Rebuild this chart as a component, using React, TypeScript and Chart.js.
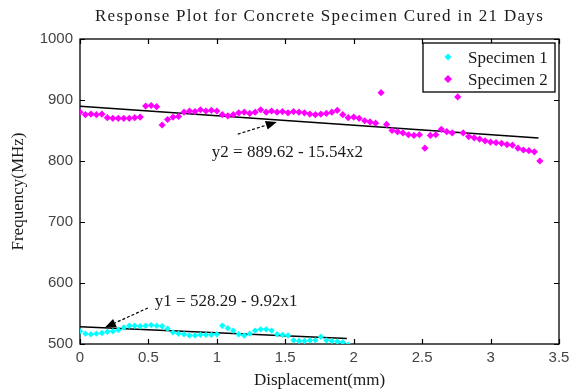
import React, { useEffect, useRef } from "react";
import { Chart, registerables } from "chart.js";

Chart.register(...registerables);

const chartTitle = "Response Plot for Concrete Specimen Cured in 21 Days";
const xAxisTitle = "Displacement(mm)";
const yAxisTitle = "Frequency(MHz)";
const xTickValues = [0, 0.5, 1, 1.5, 2, 2.5, 3, 3.5];
const yTickValues = [500, 600, 700, 800, 900, 1000];
const seriesNames = ["Specimen 1", "Specimen 2"];

const spec1X = [
  0, 0.04, 0.08, 0.12, 0.16, 0.2, 0.24, 0.28, 0.32, 0.36,
  0.4, 0.44, 0.48, 0.52, 0.56, 0.6, 0.64, 0.68, 0.72, 0.76,
  0.8, 0.84, 0.88, 0.92, 0.96, 1.0, 1.04, 1.08, 1.12, 1.16,
  1.2, 1.24, 1.28, 1.32, 1.36, 1.4, 1.44, 1.48, 1.52, 1.56,
  1.6, 1.64, 1.68, 1.72, 1.76, 1.8, 1.84, 1.88, 1.92, 1.96,
];
const spec1Y = [
  521, 517, 516, 517, 518, 520, 521, 523, 527, 530,
  530, 529, 530, 531, 530, 529, 525, 519, 517, 516,
  514, 514, 515, 515, 515, 516, 530, 526, 522, 516,
  514, 517, 522, 524, 524, 522, 516, 515, 514, 506,
  505, 505, 506, 506, 512, 506, 505, 504, 503, 499,
];

const spec2X = [
  0, 0.04, 0.08, 0.12, 0.16, 0.2, 0.24, 0.28, 0.32, 0.36,
  0.4, 0.44, 0.48, 0.52, 0.56, 0.6, 0.64, 0.68, 0.72, 0.76,
  0.8, 0.84, 0.88, 0.92, 0.96, 1.0, 1.04, 1.08, 1.12, 1.16,
  1.2, 1.24, 1.28, 1.32, 1.36, 1.4, 1.44, 1.48, 1.52, 1.56,
  1.6, 1.64, 1.68, 1.72, 1.76, 1.8, 1.84, 1.88, 1.92, 1.96,
  2.0, 2.04, 2.08, 2.12, 2.16, 2.2, 2.24, 2.28, 2.32, 2.36,
  2.4, 2.44, 2.48, 2.52, 2.56, 2.6, 2.64, 2.68, 2.72, 2.76,
  2.8, 2.84, 2.88, 2.92, 2.96, 3.0, 3.04, 3.08, 3.12, 3.16,
  3.2, 3.24, 3.28, 3.32, 3.36,
];
const spec2Y = [
  880, 876, 877, 876, 877, 871, 870, 870, 870, 870,
  871, 872, 890, 891, 889, 859, 868, 872, 873, 880,
  882, 881, 884, 882, 883, 882, 876, 874, 876, 879,
  880, 878, 880, 884, 880, 882, 880, 881, 879, 881,
  880, 879, 877, 876, 877, 878, 880, 883, 876, 871,
  872, 870, 866, 864, 862, 912, 860, 850, 848, 846,
  843, 842, 843, 821, 842, 843, 852, 848, 846, 905,
  846, 840, 838, 836, 833, 831, 830, 829, 827, 826,
  821, 818, 817, 815, 800,
];

const fit1X = [0, 1.95];
const fit1Y = [528.29, 508.95];
const fit2X = [0, 3.35];
const fit2Y = [889.62, 837.56];

const eq1Text = "y1 = 528.29 - 9.92x1";
const eq2Text = "y2 = 889.62 - 15.54x2";

// annotation anchors in data coordinates
const eq1Anchor = { x: 0.547, y: 570 };
const arrow1From = { x: 0.496, y: 559 };
const arrow1To = { x: 0.182, y: 527 };
const eq2Anchor = { x: 0.963, y: 814 };
const arrow2From = { x: 1.153, y: 844 };
const arrow2To = { x: 1.438, y: 864 };

const CYAN = "#00FFFF";
const MAGENTA = "#FF00FF";
const SERIF = "'Liberation Serif', 'Times New Roman', serif";
const SANS = "'Liberation Sans', Arial, sans-serif";

const toPts = (xs: number[], ys: number[]) => xs.map((x, i) => ({ x, y: ys[i] }));

function drawArrow(ctx: CanvasRenderingContext2D, x1: number, y1: number, x2: number, y2: number) {
  const ang = Math.atan2(y2 - y1, x2 - x1);
  const headLen = 11;
  const headW = 4.5;
  const bx = x2 - Math.cos(ang) * headLen;
  const by = y2 - Math.sin(ang) * headLen;
  ctx.save();
  ctx.strokeStyle = "#000";
  ctx.lineWidth = 1.2;
  ctx.setLineDash([3, 2]);
  ctx.beginPath();
  ctx.moveTo(x1, y1);
  ctx.lineTo(bx, by);
  ctx.stroke();
  ctx.setLineDash([]);
  ctx.fillStyle = "#000";
  ctx.beginPath();
  ctx.moveTo(x2, y2);
  ctx.lineTo(bx + Math.sin(ang) * headW, by - Math.cos(ang) * headW);
  ctx.lineTo(bx - Math.sin(ang) * headW, by + Math.cos(ang) * headW);
  ctx.closePath();
  ctx.fill();
  ctx.restore();
}

const framePlugin = {
  id: "matlabFrame",
  beforeDatasetsDraw(chart: any) {
    const { ctx, chartArea: ca, scales } = chart;
    const xs = scales.x;
    const ys = scales.y;
    ctx.save();
    ctx.strokeStyle = "#000";
    ctx.lineWidth = 1.3;
    ctx.strokeRect(ca.left, ca.top, ca.right - ca.left, ca.bottom - ca.top);
    const tl = 5;
    ctx.lineWidth = 1.2;
    ctx.beginPath();
    xTickValues.forEach((v) => {
      const px = Math.round(xs.getPixelForValue(v)) + 0.5;
      ctx.moveTo(px, ca.bottom);
      ctx.lineTo(px, ca.bottom - tl);
      ctx.moveTo(px, ca.top);
      ctx.lineTo(px, ca.top + tl);
    });
    yTickValues.forEach((v) => {
      const py = Math.round(ys.getPixelForValue(v)) + 0.5;
      ctx.moveTo(ca.left, py);
      ctx.lineTo(ca.left + tl, py);
      ctx.moveTo(ca.right, py);
      ctx.lineTo(ca.right - tl, py);
    });
    ctx.stroke();
    ctx.restore();
  },
  afterDraw(chart: any) {
    const { ctx, chartArea: ca, scales } = chart;
    const xs = scales.x;
    const ys = scales.y;
    const cx = (ca.left + ca.right) / 2;
    const cy = (ca.top + ca.bottom) / 2;
    ctx.save();
    ctx.fillStyle = "#1a1a1a";
    ctx.textBaseline = "middle";
    ctx.textAlign = "center";
    // title
    ctx.font = `17px ${SERIF}`;
    (ctx as any).letterSpacing = "1.3px";
    ctx.fillText(chartTitle, cx, 17);
    (ctx as any).letterSpacing = "0px";
    // x title
    ctx.fillText(xAxisTitle, cx, 381);
    // y title
    ctx.save();
    ctx.translate(19, cy);
    ctx.rotate(-Math.PI / 2);
    ctx.fillText(yAxisTitle, 0, 0);
    ctx.restore();

    // equations
    ctx.textAlign = "left";
    ctx.fillText(eq2Text, xs.getPixelForValue(eq2Anchor.x), ys.getPixelForValue(eq2Anchor.y));
    ctx.fillText(eq1Text, xs.getPixelForValue(eq1Anchor.x), ys.getPixelForValue(eq1Anchor.y));
    drawArrow(
      ctx,
      xs.getPixelForValue(arrow2From.x), ys.getPixelForValue(arrow2From.y),
      xs.getPixelForValue(arrow2To.x), ys.getPixelForValue(arrow2To.y)
    );
    drawArrow(
      ctx,
      xs.getPixelForValue(arrow1From.x), ys.getPixelForValue(arrow1From.y),
      xs.getPixelForValue(arrow1To.x), ys.getPixelForValue(arrow1To.y)
    );

    // legend
    const lw = 132;
    const lh = 49;
    const lx = ca.right - 4 - lw;
    const ly = ca.top + 4;
    ctx.fillStyle = "#fff";
    ctx.fillRect(lx, ly, lw, lh);
    ctx.strokeStyle = "#000";
    ctx.lineWidth = 1.3;
    ctx.strokeRect(lx, ly, lw, lh);
    const colors = [CYAN, MAGENTA];
    const radii = [3.5, 4];
    seriesNames.forEach((name, i) => {
      const rowY = ly + 14 + i * 22;
      const mx = lx + 25;
      ctx.fillStyle = colors[i];
      const r = radii[i];
      ctx.beginPath();
      ctx.moveTo(mx, rowY - r);
      ctx.lineTo(mx + r, rowY);
      ctx.lineTo(mx, rowY + r);
      ctx.lineTo(mx - r, rowY);
      ctx.closePath();
      ctx.fill();
      ctx.fillStyle = "#1a1a1a";
      ctx.font = `17px ${SERIF}`;
      ctx.textAlign = "left";
      ctx.fillText(name, lx + 45, rowY + 2);
    });
    ctx.restore();
  },
};

export default function App() {
  const canvasRef = useRef<HTMLCanvasElement | null>(null);

  useEffect(() => {
    if (!canvasRef.current) return;
    const chart = new Chart(canvasRef.current, {
      type: "scatter",
      data: {
        datasets: [
          {
            label: seriesNames[0],
            data: toPts(spec1X, spec1Y),
            pointStyle: "rectRot",
            pointRadius: 3.2,
            backgroundColor: CYAN,
            borderColor: CYAN,
            borderWidth: 0,
            showLine: false,
          },
          {
            label: seriesNames[1],
            data: toPts(spec2X, spec2Y),
            pointStyle: "rectRot",
            pointRadius: 3.6,
            backgroundColor: MAGENTA,
            borderColor: MAGENTA,
            borderWidth: 0,
            showLine: false,
          },
          {
            label: "fit1",
            data: toPts(fit1X, fit1Y),
            showLine: true,
            pointRadius: 0,
            borderColor: "#000",
            borderWidth: 1.5,
          },
          {
            label: "fit2",
            data: toPts(fit2X, fit2Y),
            showLine: true,
            pointRadius: 0,
            borderColor: "#000",
            borderWidth: 1.5,
          },
        ],
      },
      options: {
        animation: false,
        responsive: false,
        devicePixelRatio: 1,
        layout: { padding: { top: 39, right: 21, left: 0, bottom: 0 } },
        plugins: {
          legend: { display: false },
          title: { display: false },
          tooltip: { enabled: false },
        },
        scales: {
          x: {
            type: "linear",
            min: 0,
            max: 3.5,
            grid: { display: false, drawTicks: false },
            border: { display: false },
            ticks: {
              font: { family: SANS, size: 15 },
              color: "#444",
              padding: 5,
              maxRotation: 0,
              callback: (v: any) => String(v),
            },
            afterBuildTicks: (s: any) => {
              s.ticks = xTickValues.map((v) => ({ value: v }));
            },
            afterFit: (s: any) => {
              s.height = 45;
            },
          },
          y: {
            type: "linear",
            min: 500,
            max: 1000,
            grid: { display: false, drawTicks: false },
            border: { display: false },
            ticks: {
              font: { family: SANS, size: 15 },
              color: "#444",
              padding: 7,
              callback: (v: any) => String(v),
            },
            afterBuildTicks: (s: any) => {
              s.ticks = yTickValues.map((v) => ({ value: v }));
            },
            afterFit: (s: any) => {
              s.width = 80;
            },
          },
        },
      },
      plugins: [framePlugin],
    });
    return () => chart.destroy();
  }, []);

  return (
    <div style={{ position: "absolute", left: 0, top: 0, width: 580, height: 389, background: "#fff" }}>
      <canvas ref={canvasRef} width={580} height={389} style={{ width: 580, height: 389 }} />
    </div>
  );
}
